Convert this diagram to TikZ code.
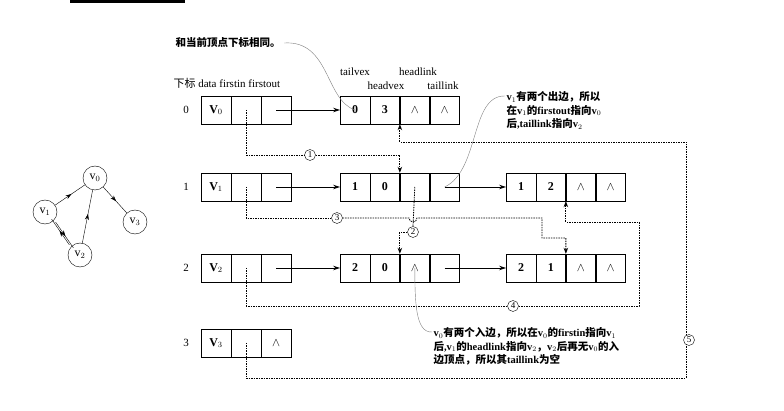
\documentclass[tikz,border=0pt]{standalone}
\usepackage{fontspec}
\setmainfont{Liberation Serif}
\newfontfamily\cjk{Noto Sans CJK SC}
\usetikzlibrary{arrows.meta,decorations.markings}
\begin{document}
\begin{tikzpicture}[x=1pt,y=-1pt,
  cell/.style={draw,minimum width=29.5pt,minimum height=28pt,inner sep=0pt,font=\bfseries\fontsize{12}{12}\selectfont},
  vcell/.style={draw,minimum width=30pt,minimum height=28pt,inner sep=0pt,font=\bfseries\fontsize{12}{12}\selectfont},
  lab/.style={font=\fontsize{11}{11}\selectfont},
  ptr/.style={-{Stealth[length=7pt,width=4.5pt]},thick},
  dot/.style={dash pattern=on 1.5pt off 1pt,thick},
  dotar/.style={dash pattern=on 1.5pt off 1pt,thick,-{Stealth[length=6pt,width=4.5pt]}},
  circ/.style={circle,draw,fill=white,inner sep=0.8pt,minimum size=11pt,font=\fontsize{9}{9}\selectfont},
  note/.style={gray,thin},
  gv/.style={circle,draw,minimum size=24pt,inner sep=0pt,font=\fontsize{12}{12}\selectfont},
  mid/.style={postaction={decorate},decoration={markings,mark=at position 0.55 with {\arrow{Stealth[length=6pt,width=4pt]}}}}
]
\useasboundingbox (0,0) rectangle (784,411);
\fill (70,0) rectangle (185,3);
% header
\node[lab,anchor=west] (hdr) at (170,83) {{\cjk 下标} data firstin firstout};
\node[lab] (tv) at (355,72) {tailvex};
\node[lab] (hl) at (418,72) {headlink};
\node[lab] (hv) at (386,86) {headvex};
\node[lab] (tl) at (443,86) {taillink};
% vertex rows
\foreach \r/\y/\v in {0/110/0,1/187/1,2/268/2,3/343/3}{
  \node[lab] (i\r) at (186,\y) {\r};
  \node[vcell] (d\r) at (216,\y) {V$_{\v}$};
  \node[vcell] (fi\r) at (246,\y) {};
  \node[vcell] (fo\r) at (276,\y) {};
}
\node[font=\fontsize{13}{13}\selectfont] at (fo3) {$\wedge$};
% edge nodes
\newcommand\edgebox[7]{%
  \node[cell] (#1a) at (#2,#3) {#4};
  \node[cell,anchor=west] (#1b) at (#1a.east) {#5};
  \node[cell,anchor=west] (#1c) at (#1b.east) {#6};
  \node[cell,anchor=west] (#1d) at (#1c.east) {#7};}
\newcommand\wg{{\fontsize{13}{13}\selectfont$\wedge$}}
\edgebox{e0}{355}{110}{0}{3}{\wg}{\wg}
\edgebox{e1}{355}{187}{1}{0}{}{}
\edgebox{e2}{521}{187}{1}{2}{\wg}{\wg}
\edgebox{e3}{355}{268}{2}{0}{\wg}{}
\edgebox{e4}{521}{268}{2}{1}{\wg}{\wg}
% solid pointers
\draw[ptr] (fo0.center) -- (e0a.west);
\draw[ptr] (fo1.center) -- (e1a.west);
\draw[ptr] (e1d.center) -- (e2a.west);
\draw[ptr] (fo2.center) -- (e3a.west);
\draw[ptr] (e3d.center) -- (e4a.west);
% dotted pointers
\node[circ] (c1) at (310,155) {1};
\draw[dot] (fi0.center) |- (c1.west);
\draw[dotar] (c1.east) -- (e1b.north east |- c1) -- (e1b.north east);
\node[circ] (c3) at (337,218) {3};
\draw[dot] (fi1.center) |- (c3.west);
\coordinate (j3) at (542,238);
\draw[dotar] (c3.east) -- (409,218) arc (180:0:4) -- (542,218) -- (j3) -- (e4b.north east |- j3) -- (e4b.north east);
\node[circ] (c2) at (413,232) {2};
\draw[dot] (e1c.center) -- (c2.north);
\draw[dotar] (c2.west) -- (e3b.north east |- c2) -- (e3b.north east);
\node[circ] (c4) at (513,306) {4};
\draw[dot] (fi2.center) |- (c4.west);
\draw[dotar] (c4.east) -- (639,306) -- (639,222) -- (e2b.south east |- 0,222) -- (e2b.south east);
\coordinate (k5) at (686,378);
\draw[dotar] (fi3.center) |- (k5) -- (686,142) -- (e0b.south east |- 0,142) -- (e0b.south east);
\node[circ] (c5) at (689,340) {5};
% notes
\node[anchor=west,font=\cjk\bfseries\fontsize{10.5}{10.5}\selectfont] (n1) at (172,43) {和当前顶点下标相同。};
\draw[note] (n1.east) .. controls (330,40) and (325,100) .. (e0a.center);
\node[anchor=north west,align=left,font=\fontsize{10.5}{13.5}\selectfont\bfseries] (n2) at (503,88) {v$_1${\cjk 有两个出边，所以}\\{\cjk 在}v$_1${\cjk 的}firstout{\cjk 指向}v$_0$\\{\cjk 后},taillink{\cjk 指向}v$_2$};
\draw[note] (n2.north west)++(2,8) .. controls (470,95) and (480,170) .. (e1d.center);
\node[anchor=north west,align=left,font=\fontsize{10.5}{13.5}\selectfont\bfseries] (n3) at (430,324) {v$_0${\cjk 有两个入边，所以在}v$_0${\cjk 的}firstin{\cjk 指向}v$_1$\\{\cjk 后},v$_1${\cjk 的}headlink{\cjk 指向}v$_2${\cjk ，}v$_2${\cjk 后再无}v$_0${\cjk 的入}\\{\cjk 边顶点，所以其}taillink{\cjk 为空}};
\draw[note] (n3.north west)++(2,8) .. controls (415,333) and (415,300) .. (e3c.center);
% graph
\node[gv] (g0) at (95,178) {v$_0$};
\node[gv] (g1) at (45,212) {v$_1$};
\node[gv] (g2) at (80,255) {v$_2$};
\node[gv] (g3) at (135,222) {v$_3$};
\draw[mid] (g1) -- (g0);
\draw[mid] (g0) -- (g3);
\draw[mid] (g2) -- (g0);
\draw[mid] ([xshift=2pt,yshift=-1.5pt]g1.south east) -- ([xshift=2pt,yshift=-1.5pt]g2.north west);
\draw[mid] ([xshift=-2pt,yshift=1.5pt]g2.north west) -- ([xshift=-2pt,yshift=1.5pt]g1.south east);
\end{tikzpicture}
\end{document}
